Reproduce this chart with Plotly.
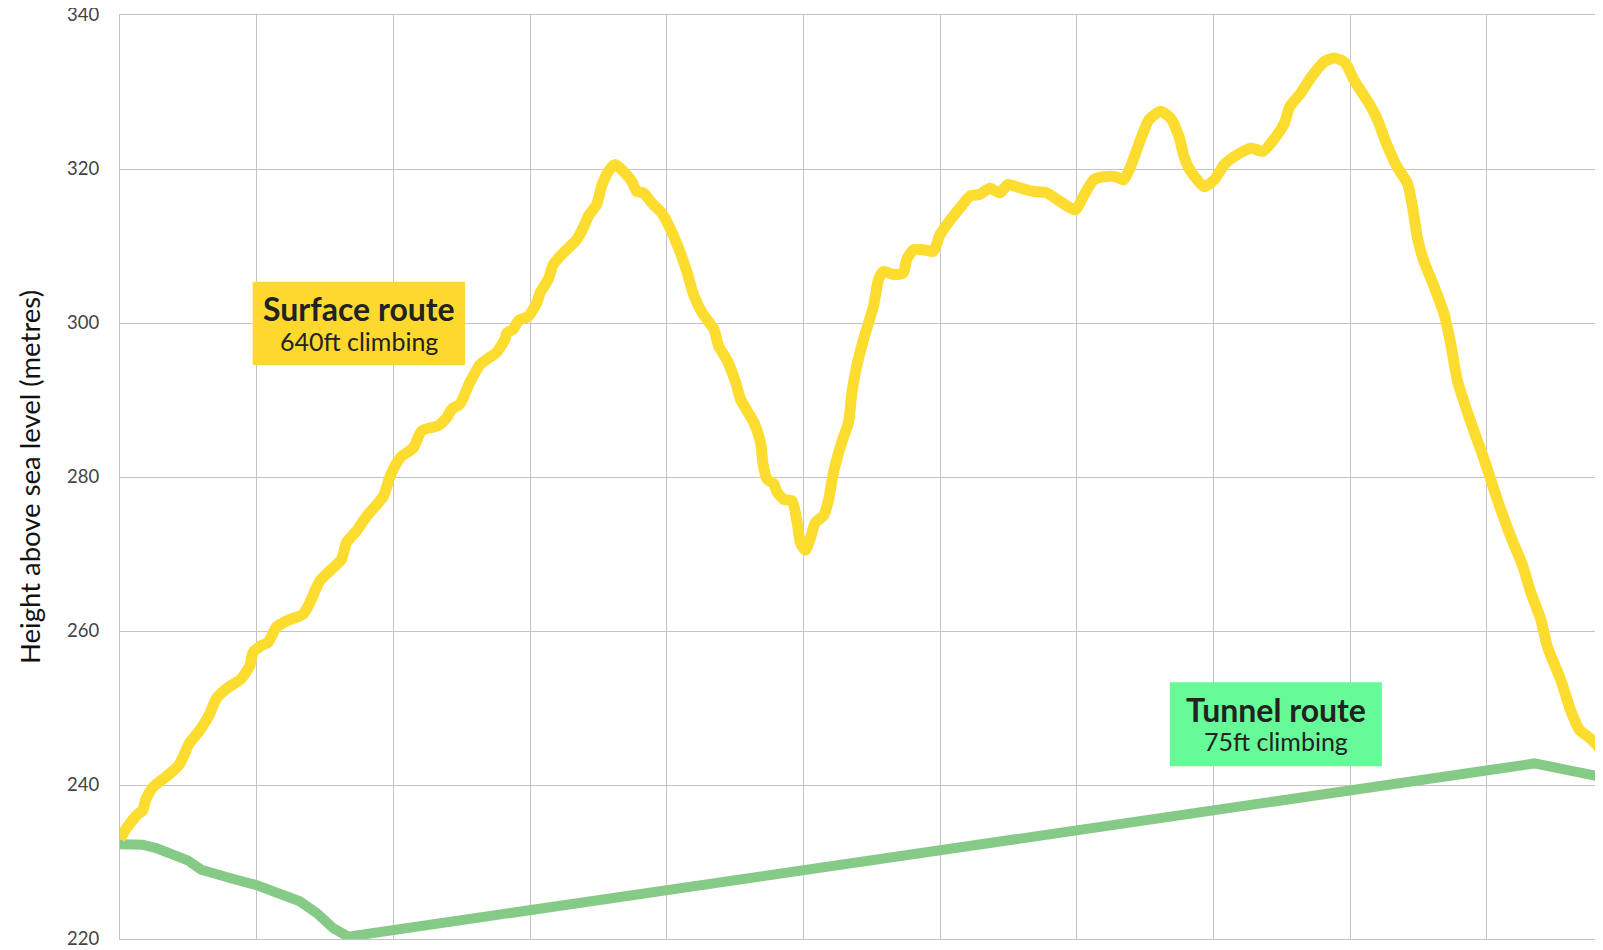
import plotly.graph_objects as go

# Distance along route (grid units) and height (m)
surface_x = [0.0, 0.044, 0.13, 0.166, 0.19, 0.24, 0.36, 0.435, 0.51, 0.57, 0.606, 0.655, 0.704, 0.778,
             0.887, 0.95, 0.973, 1.034, 1.083, 1.144, 1.218, 1.34, 1.389, 1.462, 1.535, 1.62, 1.658,
             1.731, 1.804, 1.927, 1.976, 2.05, 2.146, 2.207, 2.33, 2.39, 2.427, 2.488, 2.56, 2.634,
             2.756, 2.817, 2.83, 2.878, 2.915, 2.988, 3.049, 3.073, 3.134, 3.17, 3.244, 3.34, 3.39,
             3.427, 3.488, 3.524, 3.573, 3.622, 3.683, 3.744, 3.78, 3.83, 3.89, 3.963, 4.03, 4.10,
             4.15, 4.2, 4.26, 4.345, 4.38, 4.443, 4.504, 4.54, 4.637, 4.686, 4.706, 4.735, 4.783,
             4.808, 4.856, 4.917, 4.954, 4.978, 5.015, 5.05, 5.088, 5.148, 5.185, 5.22, 5.28, 5.33,
             5.355, 5.39, 5.44, 5.513, 5.55, 5.586, 5.66, 5.73, 5.757, 5.805, 5.88, 5.95, 6.0, 6.05,
             6.134, 6.22, 6.29, 6.365, 6.436, 6.497, 6.558, 6.68, 6.78, 6.877, 6.988, 7.05, 7.123,
             7.196, 7.282, 7.344, 7.393, 7.466, 7.528, 7.613, 7.687, 7.748, 7.785, 7.834, 7.933,
             8.006, 8.08, 8.178, 8.276, 8.362, 8.448, 8.52, 8.558, 8.632, 8.718, 8.816, 8.89, 8.963,
             9.03, 9.139, 9.2, 9.261, 9.346, 9.42, 9.456, 9.493, 9.54, 9.615, 9.688, 9.737, 9.785,
             9.883, 9.98, 10.078, 10.176, 10.26, 10.32, 10.395, 10.444, 10.54, 10.615, 10.676,
             10.76, 10.81, 10.856, 10.92]
surface_y = [233.0, 234.3, 236.2, 236.7, 238.2, 239.7, 241.4, 242.7, 245.5, 246.8, 247.7, 249.2, 251.2,
             252.5, 253.8, 255.5, 257.2, 258.1, 258.5, 260.5, 261.3, 262.2, 263.7, 266.5, 267.8,
             269.3, 271.5, 273.0, 274.9, 277.5, 280.1, 282.5, 283.8, 286.0, 286.7, 287.7, 288.8,
             289.5, 292.3, 294.6, 296.2, 297.9, 298.7, 299.2, 300.3, 300.9, 302.6, 303.9, 305.7,
             307.6, 309.1, 310.8, 312.4, 313.9, 315.4, 317.8, 319.7, 320.6, 319.7, 318.4, 317.1,
             316.9, 315.6, 314.3, 312.1, 309.1, 306.5, 303.5, 301.3, 299.2, 297.0, 295.1, 292.3,
             290.1, 287.1, 284.5, 281.5, 279.7, 279.1, 278.0, 277.1, 276.9, 274.1, 271.5, 270.5,
             272.0, 274.1, 275.0, 277.1, 280.6, 284.5, 287.1, 291.0, 294.4, 297.9, 302.2, 305.7,
             306.7, 306.3, 306.5, 308.3, 309.5, 309.5, 309.3, 311.5, 312.8, 314.7, 316.5, 316.7,
             317.5, 316.9, 318.0, 317.7, 317.1, 316.9, 315.8, 314.7, 316.5, 318.6, 319.0, 319.0,
             318.6, 320.3, 323.8, 326.4, 327.5, 326.6, 324.2, 321.6, 319.7, 317.7, 318.6, 320.6,
             321.9, 322.7, 322.3, 324.0, 326.0, 328.1, 329.7, 332.0, 334.0, 334.4, 333.8, 331.5,
             328.5, 326.4, 323.5, 320.2, 318.1, 315.1, 311.0, 308.0, 304.7, 301.1, 297.2, 292.5,
             287.1, 282.3, 277.0, 272.2, 268.6, 265.1, 261.5, 257.9, 253.7, 249.6, 247.2, 246.0,
             245.1, 243.9, 242.3]

tunnel_x = [0.0, 0.166, 0.264, 0.386, 0.496, 0.594, 0.692, 0.85, 0.998, 1.144, 1.315, 1.438, 1.56,
            1.67, 10.35, 10.856, 11.0]
tunnel_y = [232.3, 232.25, 231.8, 231.0, 230.2, 229.0, 228.4, 227.7, 227.0, 226.1, 224.9, 223.4,
            221.4, 220.3, 242.8, 241.0, 240.5]

y_ticks = [220, 240, 260, 280, 300, 320, 340]

labels = [
    dict(title="Surface route", sub="640ft climbing", color="#fdd92f",
         box=(0.971, 2.524, 294.55, 305.36), cx=1.747, ty=301.9, sy=297.6),
    dict(title="Tunnel route", sub="75ft climbing", color="#66fa98",
         box=(7.681, 9.232, 242.42, 253.33), cx=8.457, ty=249.75, sy=245.65),
]

FONT = "Lato, 'Source Sans Pro', 'Noto Sans', sans-serif"
GRID = "#c4c4c4"

fig = go.Figure()
fig.add_trace(go.Scatter(x=tunnel_x, y=tunnel_y, mode="lines",
                         line=dict(color="#86ca88", width=10), hoverinfo="skip", showlegend=False))
fig.add_trace(go.Scatter(x=surface_x, y=surface_y, mode="lines",
                         line=dict(color="#fcdc2f", width=11, shape="spline", smoothing=0.6),
                         hoverinfo="skip", showlegend=False))

for lb in labels:
    x0, x1, y0, y1 = lb["box"]
    fig.add_shape(type="rect", xref="x", yref="y", x0=x0, x1=x1, y0=y0, y1=y1,
                  fillcolor=lb["color"], line=dict(width=0), layer="above")
    fig.add_annotation(x=lb["cx"], y=lb["ty"], xref="x", yref="y", text="<b>" + lb["title"] + "</b>",
                       showarrow=False, xanchor="center", yanchor="middle",
                       font=dict(family=FONT, size=32, color="#222222"))
    fig.add_annotation(x=lb["cx"], y=lb["sy"], xref="x", yref="y", text=lb["sub"],
                       showarrow=False, xanchor="center", yanchor="middle",
                       font=dict(family=FONT, size=25, color="#222222"))

fig.update_layout(
    width=1595, height=942,
    margin=dict(l=112, r=0, t=7, b=11, autoexpand=False),
    paper_bgcolor="white", plot_bgcolor="white",
    font=dict(family=FONT),
    xaxis=dict(range=[0, 10.85], dtick=1, tick0=0, showgrid=True, gridcolor=GRID, gridwidth=1.2,
               showticklabels=False, zeroline=False, ticks="", automargin=False,
               showline=True, linecolor=GRID, linewidth=1.2, mirror=True),
    yaxis=dict(range=[220, 340], tickvals=y_ticks, showgrid=True, gridcolor=GRID, gridwidth=1.2,
               zeroline=False, ticks="", ticklabelstandoff=16, ticklabeloverflow="allow",
               automargin=False,
               showline=True, linecolor=GRID, linewidth=1.2, mirror=False,
               tickfont=dict(family=FONT, size=18.5, color="#444444"),
               title=dict(text="Height above sea level (metres)", standoff=18,
                          font=dict(family=FONT, size=27.5, color="#111111"))),
)

fig.write_html("out.html")
